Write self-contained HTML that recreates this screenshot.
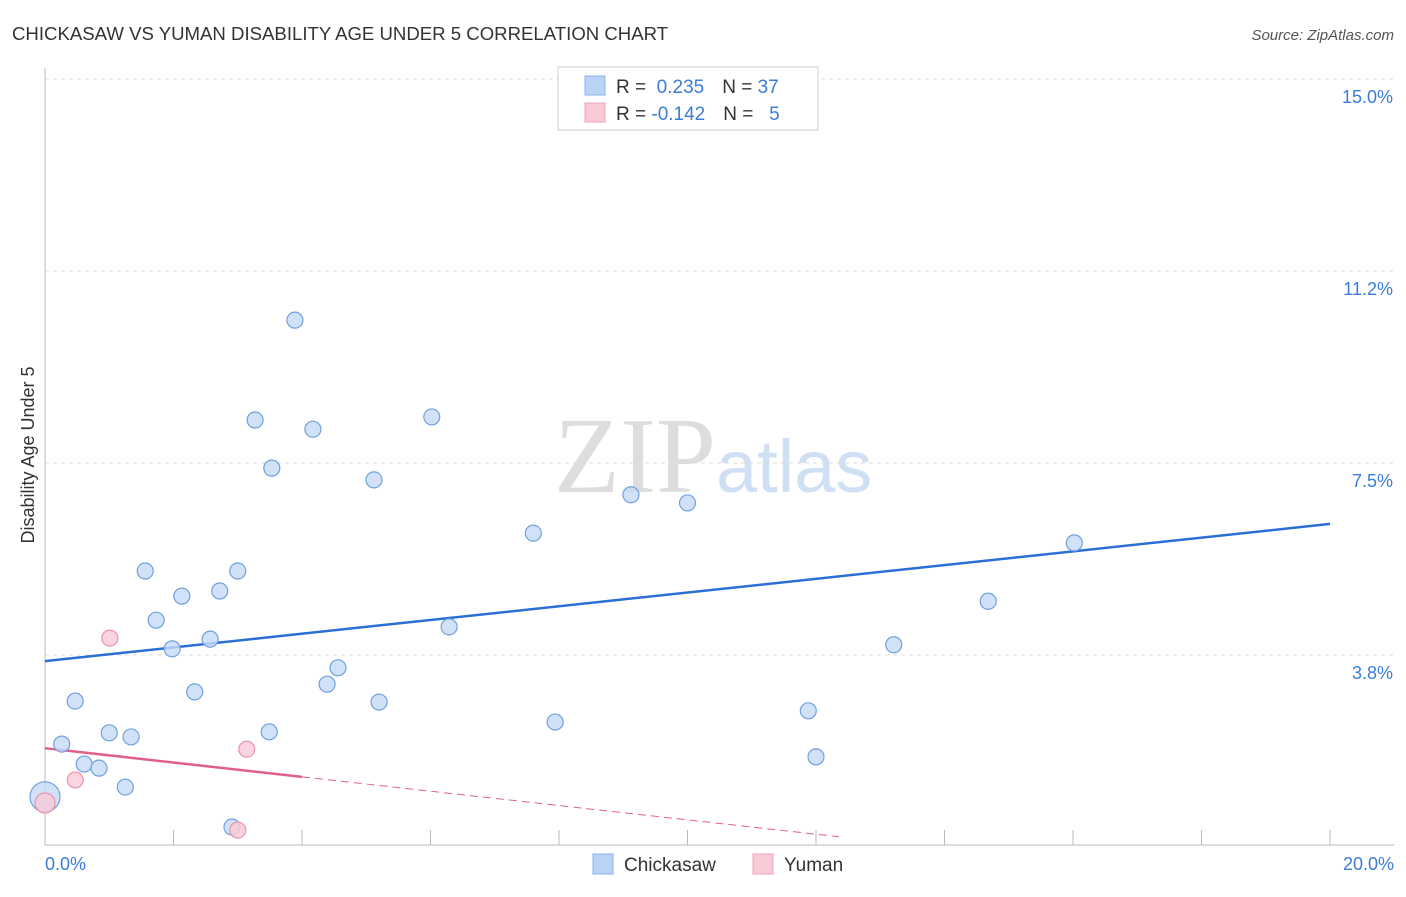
<!DOCTYPE html>
<html><head><meta charset="utf-8"><style>
body{margin:0;background:#fff;font-family:"Liberation Sans",sans-serif;}
</style></head><body>
<svg width="1406" height="892" xmlns="http://www.w3.org/2000/svg">
<text x="12" y="40" font-size="18.6" fill="#333">CHICKASAW VS YUMAN DISABILITY AGE UNDER 5 CORRELATION CHART</text>
<text x="1394" y="40" font-size="15" fill="#555" font-style="italic" text-anchor="end">Source: ZipAtlas.com</text>
<text x="716" y="492" font-size="108" fill="#ddd" text-anchor="end" font-family="Liberation Serif">ZIP</text>
<text x="716" y="492" font-size="74" fill="#cfe0f5">atlas</text>
<g id="grid"></g>
<line x1="45" y1="68" x2="45" y2="845" stroke="#bbb"/>
<line x1="45" y1="845" x2="1394" y2="845" stroke="#bbb"/>
<text x="34" y="455" font-size="18" fill="#333" text-anchor="middle" transform="rotate(-90 34 455)">Disability Age Under 5</text>
<text x="45" y="870" font-size="18" fill="#3b7dd8">0.0%</text>
<text x="1394" y="870" font-size="18" fill="#3b7dd8" text-anchor="end">20.0%</text>
<g id="lines"></g>
<g id="points"></g>
<g>
<rect x="558" y="67" width="260" height="63" fill="#fff" stroke="#ccc"/>
<rect x="585" y="76" width="20" height="19" fill="#b8d3f5" stroke="#8ab3e8"/>
<rect x="585" y="103" width="20" height="19" fill="#f9c9d6" stroke="#eea5bb"/>
<text x="616" y="93" font-size="19" fill="#333">R = <tspan fill="#3b7dd8">&#160;0.235</tspan><tspan dx="18">N = </tspan><tspan fill="#3b7dd8">37</tspan></text>
<text x="616" y="120" font-size="19" fill="#333">R = <tspan fill="#3b7dd8">-0.142</tspan><tspan dx="18">N = </tspan><tspan fill="#3b7dd8">&#160;&#160;5</tspan></text>
</g>
<g>
<rect x="593" y="854" width="20" height="20" fill="#b8d3f5" stroke="#8ab3e8"/>
<text x="624" y="871" font-size="19" fill="#333">Chickasaw</text>
<rect x="753" y="854" width="20" height="20" fill="#f9c9d6" stroke="#eea5bb"/>
<text x="784" y="871" font-size="19" fill="#333">Yuman</text>
</g>
</svg>
<script>
const yTicks=[3.75,7.5,11.25,15];
const yTickLabels=["3.8%","7.5%","11.2%","15.0%"];
const xTicks=[0,2,4,6,8,10,12,14,16,18,20];
const blueX=[0,0.26,0.47,0.61,0.84,1.0,1.25,1.34,1.56,1.73,1.98,2.13,2.33,2.57,2.72,2.91,3.0,3.27,3.49,3.53,3.89,4.17,4.39,4.56,5.12,5.2,6.02,6.29,7.6,7.94,9.12,10.0,11.88,12.0,13.21,14.68,16.02];
const blueY=[0.98,2.01,2.85,1.62,1.54,2.23,1.17,2.15,5.39,4.43,3.87,4.9,3.03,4.06,5.0,0.39,5.39,8.34,2.25,7.4,10.29,8.16,3.18,3.5,7.17,2.83,8.4,4.3,6.13,2.44,6.88,6.72,2.66,1.76,3.95,4.8,5.94];
const pinkX=[0,0.47,1.01,3.14,3.0];
const pinkY=[0.86,1.31,4.08,1.91,0.33];
const blueTrend=[3.63,6.31];
const pinkTrend=[1.93,1.37];
const xs=v=>45+v*64.25, ys=v=>847-v*51.2;
const NS="http://www.w3.org/2000/svg";
function mk(t,a,p){const e=document.createElementNS(NS,t);for(const k in a)e.setAttribute(k,a[k]);document.getElementById(p).appendChild(e);return e;}
yTicks.forEach((t,i)=>{
 const l=mk('line',{x1:45,x2:1394,y1:ys(t),y2:ys(t),stroke:'#ddd','stroke-dasharray':'4,4'},'grid');
 
 
 const tx=mk('text',{x:1393,y:ys(t)+24,'font-size':18,fill:'#3b7dd8','text-anchor':'end'},'grid');
 tx.textContent=yTickLabels[i];
 
 
});
xTicks.forEach(t=>{
 const l=mk('line',{x1:xs(t),x2:xs(t),y1:830,y2:845,stroke:'#bbb'},'grid');
 
 
});
let l=mk('line',{x1:xs(0),y1:ys(blueTrend[0]),x2:xs(20),y2:ys(blueTrend[1]),stroke:'#2a6fd6','stroke-width':2.5},'lines');


const ps=(pinkTrend[1]-pinkTrend[0])/4, xe=(0.2-pinkTrend[0])/ps;
l=mk('line',{x1:xs(0),y1:ys(pinkTrend[0]),x2:xs(4),y2:ys(pinkTrend[1]),stroke:'#e0608a','stroke-width':2.5},'lines');


l=mk('line',{x1:xs(4),y1:ys(pinkTrend[1]),x2:xs(xe),y2:ys(pinkTrend[0]+ps*xe),stroke:'#e0608a','stroke-width':1,'stroke-dasharray':'8,5'},'lines');


blueX.forEach((x,i)=>{
 const c=mk('circle',{cx:xs(x),cy:ys(blueY[i]),r:i==0?15:8,fill:'#c5dbf6','fill-opacity':0.8,stroke:'#6fa0e0','stroke-width':1.2},'points');
 
 
});
pinkX.forEach((x,i)=>{
 const c=mk('circle',{cx:xs(x),cy:ys(pinkY[i]),r:i==0?10:8,fill:'#f9cad8','fill-opacity':0.8,stroke:'#e893ad','stroke-width':1.2},'points');
 
 
});
</script>
</body></html>
